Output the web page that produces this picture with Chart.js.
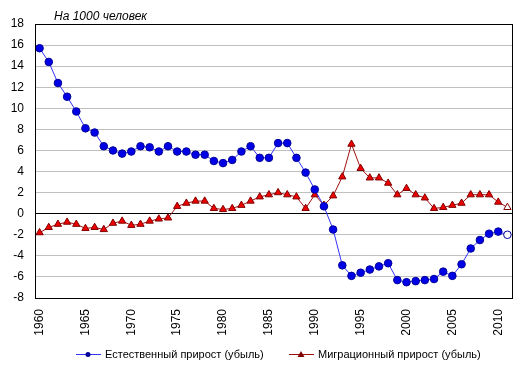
<!DOCTYPE html>
<html>
<head>
<meta charset="utf-8">
<script src="https://cdn.jsdelivr.net/npm/chart.js@4/dist/chart.umd.min.js"></script>
<style>
  html, body { margin: 0; padding: 0; background: #fff; }
  #wrap { width: 522px; height: 373px; }
</style>
</head>
<body>
<div id="wrap"><canvas id="chart"></canvas></div>
<script>
//years on the x axis
const years = [];
for (let y = 1960; y <= 2011; y++) years.push(String(y));
//natural increase per 1000 people
const naturalValues = [
  15.7, 14.4, 12.4, 11.1, 9.7, 8.1, 7.7, 6.4, 6.0, 5.7,
  5.9, 6.4, 6.3, 5.9, 6.4, 5.9, 5.9, 5.6, 5.6, 5.0,
  4.8, 5.1, 5.9, 6.4, 5.3, 5.3, 6.7, 6.7, 5.3, 3.9,
  2.3, 0.7, -1.5, -4.9, -5.9, -5.6, -5.3, -5.0, -4.7, -6.3,
  -6.5, -6.4, -6.3, -6.2, -5.5, -5.9, -4.8, -3.3, -2.5, -1.9,
  -1.7, -2.0
];
//migration increase per 1000 people
const migrationValues = [
  -1.8, -1.3, -1.0, -0.8, -1.0, -1.4, -1.3, -1.5, -0.9, -0.7,
  -1.1, -1.0, -0.7, -0.5, -0.4, 0.7, 1.0, 1.2, 1.2, 0.5,
  0.4, 0.5, 0.8, 1.2, 1.6, 1.8, 2.0, 1.8, 1.6, 0.5,
  1.8, 0.8, 1.7, 3.5, 6.6, 4.3, 3.4, 3.4, 2.9, 1.8,
  2.4, 1.8, 1.5, 0.5, 0.6, 0.8, 1.0, 1.8, 1.8, 1.8,
  1.1, 0.6
];
const seriesNames = ["Естественный прирост (убыль)", "Миграционный прирост (убыль)"];
const unitTitle = "На 1000 человек";

const font = "Liberation Sans, Arial, sans-serif";
//last year is an estimate, drawn hollow
const fillFor = (color) => years.map((y, i) => (i === years.length - 1 ? "#ffffff" : color));

//frame, title and legend drawn by hand (Excel style)
const extras = {
  id: "extras",
  afterDraw(chart) {
    const ctx = chart.ctx;
    const a = chart.chartArea;
    ctx.save();
    ctx.strokeStyle = "#000";
    ctx.lineWidth = 1;
    ctx.strokeRect(Math.round(a.left) + 0.5, Math.round(a.top) + 0.5,
      Math.round(a.right - a.left), Math.round(a.bottom - a.top));
    //title
    ctx.fillStyle = "#000";
    ctx.font = "italic 12px " + font;
    ctx.textBaseline = "middle";
    ctx.fillText(unitTitle, 54, 17);
    //legend
    const items = [
      { x: 76, ds: chart.data.datasets[0] },
      { x: 289, ds: chart.data.datasets[1] },
    ];
    const ly = 354;
    ctx.font = "11px " + font;
    items.forEach((it, i) => {
      ctx.strokeStyle = it.ds.borderColor;
      ctx.lineWidth = 1;
      ctx.beginPath();
      ctx.moveTo(it.x, ly + 0.5);
      ctx.lineTo(it.x + 25, ly + 0.5);
      ctx.stroke();
      ctx.fillStyle = it.ds.pointBorderColor;
      ctx.beginPath();
      if (i === 0) {
        ctx.arc(it.x + 12, ly + 0.5, 2.5, 0, Math.PI * 2);
      } else {
        ctx.moveTo(it.x + 12, ly - 3);
        ctx.lineTo(it.x + 15.5, ly + 3);
        ctx.lineTo(it.x + 8.5, ly + 3);
        ctx.closePath();
      }
      ctx.fill();
      ctx.fillStyle = "#000";
      ctx.fillText(seriesNames[i], it.x + 29, ly + 1);
    });
    ctx.restore();
  },
};

new Chart(document.getElementById("chart"), {
  type: "line",
  plugins: [extras],
  data: {
    labels: years,
    datasets: [
      {
        label: seriesNames[0],
        data: naturalValues,
        borderColor: "#3333ff",
        borderWidth: 1,
        pointStyle: "circle",
        pointRadius: 3.8,
        pointBackgroundColor: fillFor("#0000e6"),
        pointBorderColor: "#000099",
        pointBorderWidth: 1,
        tension: 0,
      },
      {
        label: seriesNames[1],
        data: migrationValues,
        borderColor: "#a01010",
        borderWidth: 1,
        pointStyle: "triangle",
        pointRadius: 4.2,
        pointBackgroundColor: fillFor("#ee0000"),
        pointBorderColor: "#800000",
        pointBorderWidth: 1,
        tension: 0,
      },
    ],
  },
  options: {
    responsive: true,
    maintainAspectRatio: false,
    animation: false,
    layout: { padding: { top: 24, right: 10, bottom: 38, left: 0 } },
    plugins: {
      legend: { display: false },
      tooltip: { enabled: false },
    },
    scales: {
      x: {
        offset: true,
        grid: { display: false, drawTicks: false },
        border: { display: false },
        afterFit: (s) => {
          s.height = 37;
          s.paddingLeft = 0;
          s.paddingRight = 0;
        },
        ticks: {
          autoSkip: false,
          minRotation: 90,
          maxRotation: 90,
          padding: 11,
          color: "#000",
          font: { family: font, size: 12 },
          callback: function (v) {
            const y = Number(this.getLabelForValue(v));
            return y % 5 === 0 ? String(y) : "";
          },
        },
      },
      y: {
        min: -8,
        max: 18,
        afterFit: (s) => { s.width = 35; },
        border: { display: false },
        grid: {
          drawTicks: false,
          color: (c) => (c.tick && c.tick.value === 0 ? "#000" : "#c0c0c0"),
        },
        ticks: {
          stepSize: 2,
          padding: 11,
          color: "#000",
          font: { family: font, size: 12 },
        },
      },
    },
  },
});
</script>
</body>
</html>
